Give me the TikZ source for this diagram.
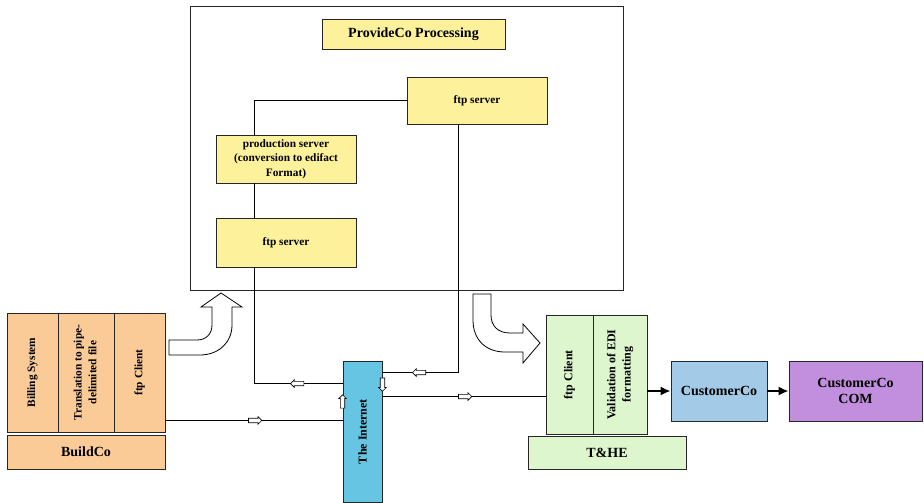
\documentclass[tikz,border=0pt]{standalone}
\usepackage{fontspec}
\setmainfont{Liberation Serif}
\usetikzlibrary{arrows.meta,shapes.arrows,calc}

\definecolor{yel}{RGB}{253,242,155}
\definecolor{org}{RGB}{251,203,151}
\definecolor{net}{RGB}{102,197,227}
\definecolor{grn}{RGB}{222,246,206}
\definecolor{cblue}{RGB}{163,203,232}
\definecolor{cpurp}{RGB}{194,142,222}

% one drawing unit
\newcommand{\pxu}{0.75pt}
\newcommand{\twoline}[2]{\begin{tabular}{@{}c@{}}#1\\#2\end{tabular}}

\tikzset{
  box/.style={draw=black!85, line width=0.7pt, inner sep=1pt, align=center, font=\bfseries},
  wire/.style={draw=black, line width=0.6pt},
  harrow/.style={single arrow, draw=black, fill=white, line width=0.5pt,
    minimum height=10pt, minimum width=5pt, single arrow head extend=1.2pt,
    inner sep=1.4pt, anchor=center},
  fat/.style={line width=1.8pt, -{Latex[length=7.5pt,width=7pt]}},
  blockarrow/.style={draw=black, line width=0.6pt, fill=white},
  big/.style={font=\bfseries\fontsize{10.5}{12.5}\selectfont},
  small/.style={font=\bfseries\fontsize{8.5}{11}\selectfont},
  vert/.style={font=\bfseries\fontsize{8.5}{11}\selectfont},
  vgrn/.style={font=\bfseries\fontsize{9}{11.5}\selectfont},
}

\begin{document}
\begin{tikzpicture}[x=0.75pt,y=-0.75pt]
\useasboundingbox (0,0) rectangle (924,503);

% ProvideCo processing frame
\node[box, minimum width=433*\pxu, minimum height=284*\pxu] (provide) at (406.5,148) {};
\node[box, big, fill=yel, minimum width=183*\pxu, minimum height=30*\pxu] (title) at (413.5,34) {ProvideCo Processing};
\node[box, small, fill=yel, minimum width=140*\pxu, minimum height=47*\pxu] (ftpA) at (477,100.5) {ftp server};
\node[box, small, fill=yel, minimum width=140*\pxu, minimum height=48*\pxu] (prod) at (286,159) {production server\\(conversion to edifact\\Format)};
\node[box, small, fill=yel, minimum width=140*\pxu, minimum height=49*\pxu] (ftpB) at (286,242.5) {ftp server};

% BuildCo
\node[box, vert, fill=org, minimum width=51*\pxu, minimum height=119*\pxu] (billing) at (32.5,372.5) {\rotatebox{90}{Billing System}};
\node[box, vert, fill=org, minimum width=56*\pxu, minimum height=119*\pxu] (transl) at (86,372.5) {\rotatebox{90}{\twoline{Translation to pipe-}{delimited file}}};
\node[box, vert, fill=org, minimum width=51*\pxu, minimum height=119*\pxu] (ftpc1) at (139.5,372.5) {\rotatebox{90}{ftp Client}};
\node[box, big, fill=org, minimum width=158*\pxu, minimum height=34*\pxu] (buildco) at (86,452) {BuildCo};

% T&HE
\node[box, vgrn, fill=grn, minimum width=47*\pxu, minimum height=119*\pxu] (ftpc2) at (569.5,374.5) {\rotatebox{90}{ftp Client}};
\node[box, vgrn, fill=grn, minimum width=54*\pxu, minimum height=119*\pxu] (valid) at (620,374.5) {\rotatebox{90}{\twoline{Validation of EDI}{formatting}}};
\node[box, big, fill=grn, minimum width=158*\pxu, minimum height=33*\pxu] (the) at (607,452.5) {T\&HE};

% customer side
\node[box, big, fill=cblue, minimum width=96*\pxu, minimum height=60*\pxu] (cust) at (719,391) {CustomerCo};
\node[box, big, fill=cpurp, minimum width=133*\pxu, minimum height=60*\pxu] (com) at (855.5,391) {CustomerCo\\COM};

% the Internet
\node[box, fill=net, font=\bfseries\fontsize{9}{11}\selectfont, minimum width=39*\pxu, minimum height=141*\pxu] (inet) at (362.5,431.5) {\rotatebox{90}{The Internet}};

% wiring
\coordinate (lA) at (254,0);
\coordinate (lB) at (458,0);
\draw[wire] (prod.north -| lA) |- (ftpA.west);
\draw[wire] (prod.south -| lA) -- (ftpB.north -| lA);
\draw[wire] (ftpB.south -| lA) |- node[harrow, rotate=180, pos=0.75] {} ([yshift=-23*\pxu]inet.north west);
\draw[wire] (ftpA.south -| lB) |- node[harrow, rotate=180, pos=0.75] {} ([yshift=-12*\pxu]inet.north east);
\coordinate (b1) at ([yshift=12*\pxu]ftpc1.south east);
\draw[wire] (b1) -- node[harrow] {} (b1 -| inet.west);
\coordinate (i1) at ([yshift=-36*\pxu]inet.north east);
\draw[wire] (i1) -- node[harrow] {} (i1 -| ftpc2.west);

% flow markers on the Internet
\node[harrow, rotate=90] (iu) at ([yshift=-42*\pxu]inet.north west) {};
\node[harrow, rotate=-90] (id) at ([yshift=-23*\pxu]inet.north east) {};

% delivery to the customer
\draw[fat] (valid.east |- cust.west) -- (cust.west);
\draw[fat] (cust.east) -- (com.west);

% bent block arrows
\path[blockarrow] (169,340) -- (197,340) .. controls (206,340) and (212,334) .. (212,325)
  -- (212,307) -- (201,307) -- (221,293) -- (242,307) -- (232,307) -- (232,325)
  .. controls (232,343) and (218,355) .. (200,355) -- (169,355) -- cycle;
\path[blockarrow] (473,294) -- (491,294) -- (491,315) .. controls (491,326) and (498,333) .. (510,333)
  -- (523,333) -- (523,324) -- (540,343) -- (523,363) -- (523,352) -- (505,352)
  .. controls (486,352) and (473,340) .. (473,320) -- cycle;
\end{tikzpicture}
\end{document}
